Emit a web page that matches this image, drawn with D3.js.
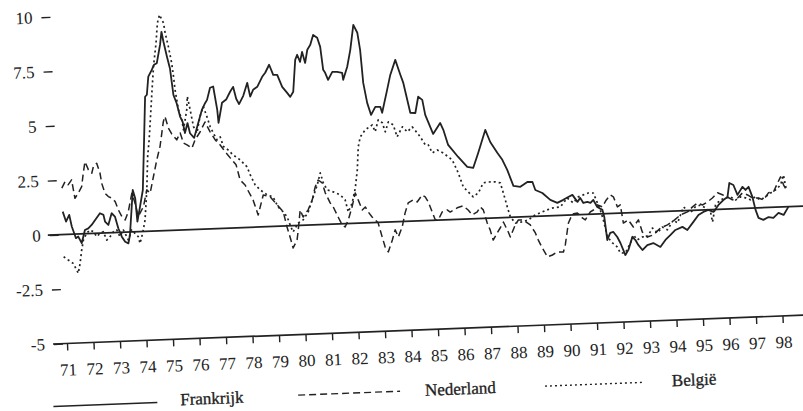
<!DOCTYPE html>
<html>
<head>
<meta charset="utf-8">
<script src="https://cdn.jsdelivr.net/npm/d3@7"></script>
<style>
  html, body { margin: 0; padding: 0; background: #fff; }
</style>
</head>
<body>
<svg id="chart" width="803" height="411"></svg>
<script>
// ---- data (year as decimal, value in percentage points) ----
const yearTicks = [71,72,73,74,75,76,77,78,79,80,81,82,83,84,85,86,87,88,89,90,91,92,93,94,95,96,97,98];
const valueTicks = [-5, -2.5, 0, 2.5, 5, 7.5, 10];
const valueTickLabels = ["-5", "-2.5", "0", "2.5", "5", "7.5", "10"];
const seriesNames = ["Frankrijk", "Nederland", "België"];

const frankrijk = [[71.03,1.05],[71.14,0.59],[71.27,0.89],[71.35,0.35],[71.49,-0.19],[71.58,-0.12],[71.70,-0.43],[71.84,0.17],[71.97,0.24],[72.10,0.39],[72.24,0.61],[72.43,0.91],[72.56,0.83],[72.61,0.52],[72.73,0.36],[72.87,0.89],[72.99,0.73],[73.10,0.19],[73.22,-0.2],[73.34,-0.44],[73.46,-0.52],[73.53,-0.14],[73.70,1.92],[73.78,1.54],[73.83,0.46],[73.95,1.14],[74.08,1.9],[74.20,4.2],[74.30,6.17],[74.37,6.26],[74.45,7.09],[74.59,7.39],[74.68,7.62],[74.79,7.69],[74.94,8.53],[75.01,9.12],[75.07,8.67],[75.18,7.98],[75.28,7.41],[75.37,6.21],[75.48,5.82],[75.59,5.2],[75.68,4.95],[75.75,4.44],[75.86,4.89],[75.94,4.42],[76.09,4.2],[76.22,4.7],[76.42,5.47],[76.55,5.77],[76.63,5.92],[76.76,6.47],[76.88,6.52],[77.0,5.44],[77.03,4.84],[77.19,5.76],[77.35,5.9],[77.51,6.25],[77.63,6.47],[77.73,5.92],[77.83,5.67],[78.0,6.04],[78.17,6.63],[78.26,5.99],[78.38,6.3],[78.54,6.43],[78.74,6.88],[78.86,7.06],[79.02,7.42],[79.16,6.95],[79.31,6.94],[79.48,6.38],[79.66,6.1],[79.77,5.91],[79.89,6.14],[80.01,7.6],[80.09,7.83],[80.19,7.5],[80.28,7.95],[80.38,7.44],[80.48,8.04],[80.60,8.26],[80.72,8.71],[80.87,8.57],[80.97,8.15],[81.05,7.09],[81.12,6.95],[81.22,6.62],[81.39,6.98],[81.57,6.97],[81.76,6.92],[81.79,6.6],[81.96,7.19],[82.10,7.96],[82.25,9.1],[82.39,8.73],[82.47,7.94],[82.54,6.42],[82.66,5.5],[82.79,4.94],[82.96,5.3],[83.15,5.29],[83.21,5.02],[83.43,6.06],[83.57,6.74],[83.78,7.42],[83.95,6.73],[84.05,6.35],[84.27,4.97],[84.46,4.95],[84.59,5.69],[84.74,5.54],[84.83,4.85],[85.10,3.96],[85.38,4.45],[85.49,4.13],[85.65,3.43],[86.01,2.86],[86.34,2.39],[86.56,2.33],[86.77,3.01],[87.07,4.05],[87.24,3.49],[87.49,2.98],[87.67,2.65],[87.84,2.18],[88.05,1.44],[88.31,1.38],[88.58,1.59],[88.77,1.59],[88.87,1.21],[89.13,1.06],[89.42,0.73],[89.68,0.58],[89.91,0.71],[90.10,0.83],[90.26,0.92],[90.44,0.59],[90.55,0.77],[90.66,0.53],[90.81,0.57],[90.93,0.52],[91.04,0.65],[91.18,0.32],[91.37,0.18],[91.43,-0.15],[91.51,-1.21],[91.63,-0.89],[91.75,-0.85],[91.89,-1.09],[92.00,-1.37],[92.17,-1.93],[92.29,-1.7],[92.46,-1.11],[92.57,-1.26],[92.67,-1.49],[92.82,-1.73],[93.01,-1.51],[93.24,-1.43],[93.50,-1.62],[93.70,-1.31],[93.90,-1.09],[94.09,-0.87],[94.36,-0.74],[94.54,-0.89],[94.78,-0.53],[94.98,-0.22],[95.17,-0.09],[95.36,-0.01],[95.55,-0.11],[95.75,0.2],[95.94,0.42],[96.10,0.55],[96.19,1.19],[96.34,1.09],[96.48,0.63],[96.68,0.99],[96.79,0.84],[96.91,0.98],[97.04,0.51],[97.14,-0.09],[97.24,-0.46],[97.42,-0.56],[97.62,-0.44],[97.80,-0.49],[98.00,-0.27],[98.19,-0.37],[98.38,-0.01]];

const nederland = [[71.03,2.13],[71.16,2.42],[71.27,2.27],[71.41,2.49],[71.51,1.64],[71.64,1.87],[71.78,2.16],[71.86,2.78],[71.94,3.3],[72.06,2.92],[72.18,2.76],[72.25,3.06],[72.38,3.21],[72.49,2.75],[72.54,2.28],[72.65,1.82],[72.77,1.66],[72.90,1.58],[73.02,1.42],[73.13,1.03],[73.25,0.72],[73.37,0.56],[73.50,0.93],[73.66,1.77],[73.77,1.31],[73.87,0.69],[74.08,1.14],[74.23,1.9],[74.35,1.74],[74.50,2.5],[74.65,3.26],[74.79,3.86],[74.95,4.99],[75.02,5.23],[75.13,4.7],[75.25,4.42],[75.43,4.14],[75.57,4.45],[75.68,3.98],[75.81,3.89],[75.99,3.73],[76.12,4.11],[76.32,4.46],[76.52,4.91],[76.70,4.45],[76.88,4.07],[77.06,3.83],[77.24,3.5],[77.42,3.22],[77.63,2.89],[77.76,2.19],[77.94,1.95],[78.22,1.25],[78.39,0.55],[78.61,1.46],[78.87,1.36],[79.12,0.98],[79.34,0.65],[79.46,-0.05],[79.56,-0.51],[79.66,-1.02],[79.82,-0.66],[79.88,-0.2],[79.98,0.71],[80.08,0.38],[80.28,0.7],[80.45,1.15],[80.58,1.74],[80.70,2.05],[80.85,1.91],[80.95,1.45],[81.12,0.98],[81.23,0.79],[81.40,0.32],[81.54,-0.05],[81.65,-0.15],[81.78,0.17],[81.94,0.76],[82.08,1.39],[82.18,1.07],[82.32,0.6],[82.44,0.73],[82.54,0.5],[82.68,0.26],[82.90,-0.02],[83.03,-0.67],[83.13,-1.14],[83.24,-1.37],[83.41,-0.83],[83.53,-0.37],[83.64,-0.7],[83.80,-0.25],[83.93,0.39],[84.06,0.84],[84.25,0.97],[84.40,0.87],[84.60,1.18],[84.71,1.09],[84.82,0.85],[84.95,0.39],[85.06,0.01],[85.17,0.01],[85.33,0.37],[85.52,0.45],[85.63,0.35],[85.90,0.53],[86.13,0.61],[86.31,0.41],[86.46,0.18],[86.65,0.31],[86.77,0.53],[86.88,0.39],[87.01,-0.22],[87.11,-0.54],[87.21,-1.01],[87.37,-0.69],[87.49,-0.47],[87.62,-0.2],[87.79,-0.67],[87.86,-0.9],[88.06,-0.36],[88.19,-0.13],[88.37,-0.14],[88.63,-0.38],[88.81,-0.76],[88.91,-1.09],[89.05,-1.46],[89.23,-1.88],[89.42,-1.8],[89.61,-1.67],[89.84,-1.68],[89.92,-1.36],[90.02,-0.68],[90.07,-0.36],[90.23,0.04],[90.42,0.08],[90.60,-0.15],[90.71,-0.25],[90.91,0.11],[91.03,0.19],[91.19,0.42],[91.37,0.32],[91.53,0.63],[91.69,0.85],[91.80,0.76],[91.94,0.29],[92.05,0.38],[92.14,-0.46],[92.33,-0.33],[92.51,-0.66],[92.71,-0.34],[92.84,-0.9],[93.02,-1.14],[93.25,-1.06],[93.53,-0.75],[93.80,-0.62],[94.03,-0.45],[94.30,-0.19],[94.57,-0.06],[94.77,0.16],[94.96,0.33],[95.15,0.23],[95.34,0.36],[95.53,0.53],[95.73,0.76],[95.91,0.66],[96.10,0.55],[96.28,0.41],[96.48,0.49],[96.67,0.71],[96.86,0.61],[97.04,0.46],[97.27,0.45],[97.45,0.35],[97.65,0.67],[97.84,0.7],[98.01,1.11],[98.13,1.38],[98.23,1.01],[98.37,0.68]];

const belgie = [[71.0,-1.02],[71.17,-1.18],[71.35,-1.34],[71.53,-1.8],[71.61,-1.35],[71.69,-0.74],[71.77,-0.28],[71.90,0.02],[72.03,0.16],[72.15,0.08],[72.28,-0.16],[72.40,-0.01],[72.53,0.06],[72.65,-0.33],[72.78,-0.18],[72.91,0.04],[73.04,0.12],[73.15,-0.2],[73.29,0.1],[73.46,-0.36],[73.60,0.09],[73.72,-0.07],[73.84,-0.23],[73.90,-0.54],[74.01,-0.08],[74.12,0.52],[74.23,1.9],[74.31,3.42],[74.39,4.19],[74.44,4.8],[74.56,6.32],[74.66,7.54],[74.79,8.61],[74.87,9.53],[74.96,9.9],[75.10,9.52],[75.15,9.05],[75.25,8.43],[75.35,7.67],[75.40,7.05],[75.44,6.43],[75.54,5.51],[75.65,5.05],[75.70,4.59],[75.85,5.5],[75.89,6.11],[75.98,5.49],[76.08,4.72],[76.20,4.41],[76.34,5.17],[76.48,5.62],[76.60,5.15],[76.71,4.68],[76.82,4.38],[76.95,4.07],[77.07,4.2],[77.18,3.75],[77.35,3.59],[77.53,3.35],[77.79,3.11],[78.04,2.78],[78.15,2.4],[78.32,1.94],[78.50,1.7],[78.76,1.46],[78.98,1.35],[79.15,0.89],[79.34,0.65],[79.48,0.41],[79.58,0.04],[79.68,-0.29],[79.89,0.12],[80.08,0.25],[80.28,0.6],[80.49,1.28],[80.66,1.83],[80.79,2.37],[80.89,1.91],[81.03,1.58],[81.25,1.48],[81.51,1.33],[81.69,1.09],[81.79,0.53],[81.95,0.94],[82.09,1.62],[82.19,2.44],[82.26,3.5],[82.35,3.95],[82.55,4.27],[82.82,4.48],[82.92,4.16],[83.05,4.7],[83.20,4.56],[83.30,4.14],[83.43,4.59],[83.61,4.45],[83.74,3.89],[83.95,4.34],[84.13,4.1],[84.32,4.32],[84.50,4.04],[84.61,3.85],[84.79,3.47],[84.90,3.47],[85.04,3.09],[85.23,3.22],[85.45,3.07],[85.78,2.74],[85.99,2.13],[86.16,1.48],[86.34,1.24],[86.52,1.0],[86.72,1.18],[86.92,1.63],[87.11,1.66],[87.37,1.65],[87.56,1.6],[87.66,1.13],[87.79,0.48],[87.89,0.02],[88.07,-0.27],[88.33,-0.23],[88.56,-0.15],[88.83,0.07],[89.10,0.19],[89.29,0.28],[89.52,0.36],[89.79,0.39],[90.06,0.79],[90.28,0.55],[90.48,0.82],[90.67,0.9],[90.86,0.98],[91.05,0.97],[91.19,0.51],[91.29,0.18],[91.39,-0.28],[91.52,-1.07],[91.70,-1.35],[91.88,-1.55],[91.98,-1.83],[92.17,-1.83],[92.38,-1.38],[92.50,-1.02],[92.64,-1.26],[92.84,-1.13],[93.02,-1.14],[93.23,-0.74],[93.41,-0.97],[93.60,-0.71],[93.79,-0.85],[94.03,-0.41],[94.18,-0.55],[94.43,0.17],[94.68,-0.11],[94.87,0.15],[95.07,0.23],[95.25,0.09],[95.44,-0.1],[95.50,-0.57],[95.64,0.21],[95.83,0.43],[96.02,0.51],[96.21,0.55],[96.40,0.4],[96.59,0.53],[96.78,0.48],[96.96,0.38],[97.15,0.51],[97.34,0.36],[97.53,0.49],[97.73,0.66],[97.92,0.79],[98.12,1.01],[98.24,1.46],[98.33,0.77]];

// ---- drawing ----
const svg = d3.select("#chart");
const ink = "#222";
const FONT = "Liberation Serif, DejaVu Serif, serif";

// the scanned original is slightly tilted; reproduce by rotating the whole plot
const g = svg.append("g").attr("transform", "rotate(-2.2, 53, 344)");

const x = d3.scaleLinear().domain([71, 98]).range([67, 783]);
const y = d3.scaleLinear().domain([-5, 10]).range([344, 17]);

// y axis (ticks only, no domain line)
const yAxis = d3.axisLeft(y).tickValues(valueTicks)
  .tickFormat((d, i) => valueTickLabels[i]).tickSize(9).tickPadding(9);
const yg = g.append("g").attr("transform", "translate(63,0)").call(yAxis)
  .attr("font-family", FONT).attr("font-size", 17);
yg.select(".domain").remove();
yg.selectAll(".tick line").attr("stroke", ink).attr("stroke-width", 1.4);
yg.selectAll(".tick text").attr("fill", ink);

// x axis
const xAxis = d3.axisBottom(x).tickValues(yearTicks).tickFormat(d => String(d))
  .tickSize(7).tickPadding(13);
const xg = g.append("g").attr("transform", `translate(0,${y(-5)})`).call(xAxis)
  .attr("font-family", FONT).attr("font-size", 17);
xg.select(".domain").remove();
xg.selectAll(".tick line").attr("stroke", ink).attr("stroke-width", 1.4);
xg.selectAll(".tick text").attr("fill", ink);

// bottom axis line and zero line, running across the plot
g.append("line").attr("x1", 53).attr("x2", 840).attr("y1", y(-5)).attr("y2", y(-5))
  .attr("stroke", ink).attr("stroke-width", 1.7);
g.append("line").attr("x1", 52).attr("x2", 840).attr("y1", y(0)).attr("y2", y(0))
  .attr("stroke", ink).attr("stroke-width", 1.7);

const line = d3.line().x(d => x(d[0])).y(d => y(d[1]));

const styles = [
  { data: frankrijk, dash: null, width: 1.8 },
  { data: nederland, dash: "7,4", width: 1.5 },
  { data: belgie, dash: "2,3", width: 1.7 }
];

styles.forEach(s => {
  g.append("path").datum(s.data).attr("d", line)
    .attr("fill", "none").attr("stroke", ink)
    .attr("stroke-width", s.width)
    .attr("stroke-linejoin", "round")
    .attr("stroke-dasharray", s.dash);
});

// legend (in the rotated frame)
const legend = [
  { x1: 51, x2: 155, ly: 406.5, tx: 178 },
  { x1: 296, x2: 398, ly: 404.5, tx: 423 },
  { x1: 543, x2: 643, ly: 405, tx: 670 }
];
legend.forEach((l, i) => {
  g.append("line").attr("x1", l.x1).attr("x2", l.x2).attr("y1", l.ly).attr("y2", l.ly)
    .attr("stroke", ink).attr("stroke-width", 1.4)
    .attr("stroke-dasharray", styles[i].dash);
  g.append("text").attr("x", l.tx).attr("y", 410)
    .attr("font-family", FONT).attr("font-size", 17)
    .attr("fill", ink).attr("stroke", ink).attr("stroke-width", 0.3)
    .text(seriesNames[i]);
});
</script>
</body>
</html>
